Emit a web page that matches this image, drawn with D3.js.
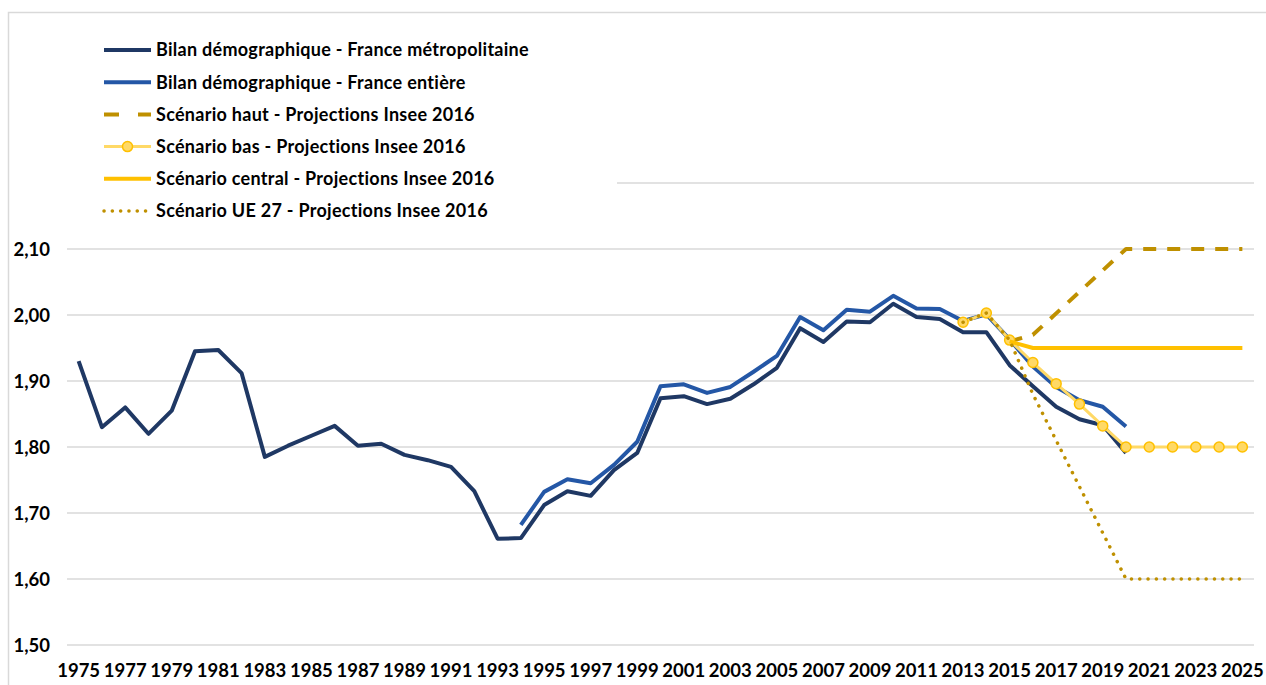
<!DOCTYPE html>
<html>
<head>
<meta charset="utf-8">
<script src="https://cdn.jsdelivr.net/npm/d3@7"></script>
<style>
  body { margin: 0; background: #fff; }
  svg text { font-family: Lato, "Open Sans", sans-serif; font-weight: 700; fill: #000; }
</style>
</head>
<body>
<div id="root"></div>
<script>
// categories
const years = d3.range(1975, 2026);
const yTicks = [1.5, 1.6, 1.7, 1.8, 1.9, 2.0, 2.1];
const gridTicks = [1.5, 1.6, 1.7, 1.8, 1.9, 2.0, 2.1, 2.2];

// Bilan démographique - France métropolitaine, 1975-2020
const metroValues = [
  1.93, 1.83, 1.86, 1.82, 1.855, 1.945, 1.947, 1.912, 1.785, 1.802,
  1.817, 1.832, 1.802, 1.805, 1.788, 1.78, 1.77, 1.733, 1.661, 1.662,
  1.712, 1.733, 1.726, 1.765, 1.791, 1.874, 1.877, 1.865, 1.873, 1.895,
  1.92, 1.98, 1.959, 1.99, 1.989, 2.017, 1.997, 1.994, 1.974, 1.974,
  1.924, 1.892, 1.861, 1.842, 1.833, 1.791
];
// Bilan démographique - France entière, 1994-2020
const entiereValues = [
  1.682, 1.732, 1.751, 1.745, 1.773, 1.808, 1.892, 1.895, 1.882, 1.891,
  1.914, 1.938, 1.997, 1.977, 2.008, 2.005, 2.029, 2.01, 2.009, 1.991,
  2.001, 1.963, 1.922, 1.891, 1.871, 1.861, 1.831
];
// Scénario haut, 2015-2025
const hautValues = [1.96, 1.97, 2.0025, 2.035, 2.0675, 2.10, 2.10, 2.10, 2.10, 2.10, 2.10];
// Scénario bas, 2013-2025
const basValues = [1.989, 2.003, 1.962, 1.928, 1.896, 1.865, 1.832, 1.80, 1.80, 1.80, 1.80, 1.80, 1.80];
// Scénario central, 2015-2025
const centralValues = [1.96, 1.95, 1.95, 1.95, 1.95, 1.95, 1.95, 1.95, 1.95, 1.95, 1.95];
// Scénario UE 27, 2013-2025
const ue27Values = [1.989, 2.003, 1.962, 1.88, 1.81, 1.74, 1.67, 1.60, 1.60, 1.60, 1.60, 1.60, 1.60];

const series = [
  { name: "Bilan démographique - France métropolitaine", start: 1975, values: metroValues, color: "#1f3864", width: 4 },
  { name: "Bilan démographique - France entière", start: 1994, values: entiereValues, color: "#2457a6", width: 4 },
  { name: "Scénario haut - Projections Insee 2016", start: 2015, values: hautValues, color: "#bf9000", width: 4, dash: "13,11" },
  { name: "Scénario bas - Projections Insee 2016", start: 2013, values: basValues, color: "#ffd966", width: 3, marker: true },
  { name: "Scénario central - Projections Insee 2016", start: 2015, values: centralValues, color: "#ffc000", width: 4 },
  { name: "Scénario UE 27 - Projections Insee 2016", start: 2013, values: ue27Values, color: "#bf9000", width: 3.5, dash: "0.1,8.2", cap: "round" }
];

const width = 1266, height = 685;
const svg = d3.select("#root").append("svg").attr("width", width).attr("height", height);

// chart border
svg.append("rect")
  .attr("x", 8.5).attr("y", 12.5).attr("width", 1400).attr("height", 800)
  .attr("fill", "#fff").attr("stroke", "#d9d9d9").attr("stroke-width", 1.5);

const x = d3.scaleBand().domain(years).range([67, 1254]);
const xc = d => x(d) + x.bandwidth() / 2;
const y = d3.scaleLinear().domain([1.5, 2.2]).range([645, 183]);

// grid
svg.append("g")
  .selectAll("line")
  .data(gridTicks)
  .join("line")
    .attr("x1", 67).attr("x2", 1254)
    .attr("y1", d => y(d)).attr("y2", d => y(d))
    .attr("stroke", "#d9d9d9").attr("stroke-width", 1.5);

// y axis labels
const yAxis = svg.append("g")
  .attr("transform", "translate(50,0)")
  .call(d3.axisLeft(y).tickValues(yTicks).tickSize(0).tickPadding(0)
    .tickFormat(d => d3.format(".2f")(d).replace(".", ",")));
yAxis.select(".domain").remove();
yAxis.selectAll("text").attr("font-size", 18.5).attr("font-family", "Lato").attr("font-weight", 700).attr("dy", "0.35em");

// x axis labels
const xAxis = svg.append("g")
  .attr("transform", "translate(0,664)")
  .call(d3.axisBottom(x).tickValues(years.filter(d => d % 2 === 1)).tickSize(0).tickPadding(0));
xAxis.select(".domain").remove();
xAxis.selectAll("text").attr("font-size", 18.5).attr("font-family", "Lato").attr("font-weight", 700).attr("dy", "0.71em");

const line = d3.line().x(d => xc(d.year)).y(d => y(d.value));

series.forEach(s => {
  s.pts = s.values.map((v, i) => ({ year: s.start + i, value: v }));
});

series.forEach(s => {
  svg.append("path")
    .datum(s.pts)
    .attr("d", line)
    .attr("fill", "none")
    .attr("stroke", s.color)
    .attr("stroke-width", s.width)
    .attr("stroke-linejoin", "round")
    .attr("stroke-linecap", s.cap || "butt")
    .attr("stroke-dasharray", s.dash || null);
  if (s.marker) {
    svg.append("g")
      .selectAll("circle")
      .data(s.pts)
      .join("circle")
        .attr("cx", d => xc(d.year))
        .attr("cy", d => y(d.value))
        .attr("r", 5)
        .attr("fill", "#ffd966")
        .attr("stroke", "#ffc000")
        .attr("stroke-width", 1.5);
  }
});

// legend
const legend = svg.append("g");
legend.append("rect")
  .attr("x", 10).attr("y", 20).attr("width", 607).attr("height", 205)
  .attr("fill", "#fff");

const rows = legend.selectAll("g.item")
  .data(series)
  .join("g")
    .attr("class", "item")
    .attr("transform", (d, i) => `translate(0,${50 + i * 32.2})`);

rows.append("line")
  .attr("x1", 104).attr("x2", 151)
  .attr("y1", 0).attr("y2", 0)
  .attr("stroke", d => d.color)
  .attr("stroke-width", d => d.width)
  .attr("stroke-linecap", d => d.cap || "butt")
  .attr("stroke-dasharray", d => d.dash ? (d.cap ? d.dash : "15,19") : null);

rows.filter(d => d.marker)
  .append("circle")
    .attr("cx", 127.5).attr("cy", 0).attr("r", 5)
    .attr("fill", "#ffd966").attr("stroke", "#ffc000").attr("stroke-width", 1.5);

rows.append("text")
  .attr("x", 156).attr("y", 0).attr("dy", "0.35em")
  .attr("font-size", 18)
  .attr("letter-spacing", 0.28)
  .text(d => d.name);
</script>
</body>
</html>
